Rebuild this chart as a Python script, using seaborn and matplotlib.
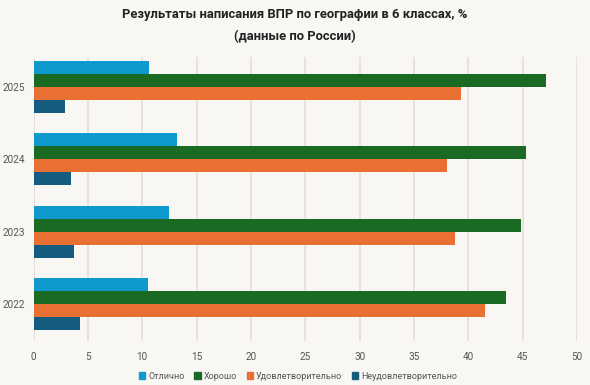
import pandas as pd
import numpy as np
import matplotlib.pyplot as plt
import seaborn as sns

# Values (% of students)
years = ['2025', '2024', '2023', '2022']
categories = ['Отлично', 'Хорошо', 'Удовлетворительно', 'Неудовлетворительно']
otlichno = [10.6, 13.2, 12.5, 10.5]
horosho = [47.1, 45.3, 44.8, 43.5]
udovl = [39.3, 38.0, 38.8, 41.5]
neudovl = [2.9, 3.4, 3.7, 4.3]
colors = ['#0f9acd', '#1a6a24', '#e87033', '#165c80']

# Long-form table for seaborn
rows = []
for cat, vals in zip(categories, [otlichno, horosho, udovl, neudovl]):
    for y, v in zip(years, vals):
        rows.append({'year': y, 'category': cat, 'value': v})
data = pd.DataFrame(rows)

bg = '#f8f7f3'
sns.set_style('white')
plt.rcParams['font.family'] = ['Roboto', 'DejaVu Sans']

fig = plt.figure(figsize=(5.9, 3.85), dpi=100, facecolor=bg)
ax = fig.add_axes([0.057, 0.114, 0.921, 0.738])
ax.set_facecolor(bg)

sns.barplot(data=data, y='year', x='value', hue='category', order=years,
            hue_order=categories, palette=colors, orient='h', width=0.72,
            saturation=1, linewidth=0, ax=ax)

ax.set_xlim(0, 50)
ax.set_ylim(3.51, -0.41)
ax.set_xticks(range(0, 51, 5))
ax.grid(axis='x', color='#e3e0db', linewidth=1.2)
ax.set_axisbelow(True)
for s in ax.spines.values():
    s.set_visible(False)
ax.tick_params(axis='both', length=0, labelsize=7.2, labelcolor='#555555')
ax.tick_params(axis='x', pad=8)
ax.tick_params(axis='y', pad=6.5)
ax.set_xlabel('')
ax.set_ylabel('')

ax.legend_.remove()
handles = [plt.Rectangle((0, 0), 1, 1, color=c) for c in colors]
fig.legend(handles, categories, loc='center', bbox_to_anchor=(0.505, 0.023),
           ncol=4, frameon=False, fontsize=6.5, labelcolor='#555555',
           handlelength=0.7, handleheight=0.7, handletextpad=0.3,
           columnspacing=1.1)

fig.suptitle('Результаты написания ВПР по географии в 6 классах, %\n(данные по России)',
             x=0.5, y=0.978, fontsize=9.4, fontweight='bold', color='#222222',
             linespacing=1.8)

plt.savefig('out.png', dpi=100, facecolor=bg)
